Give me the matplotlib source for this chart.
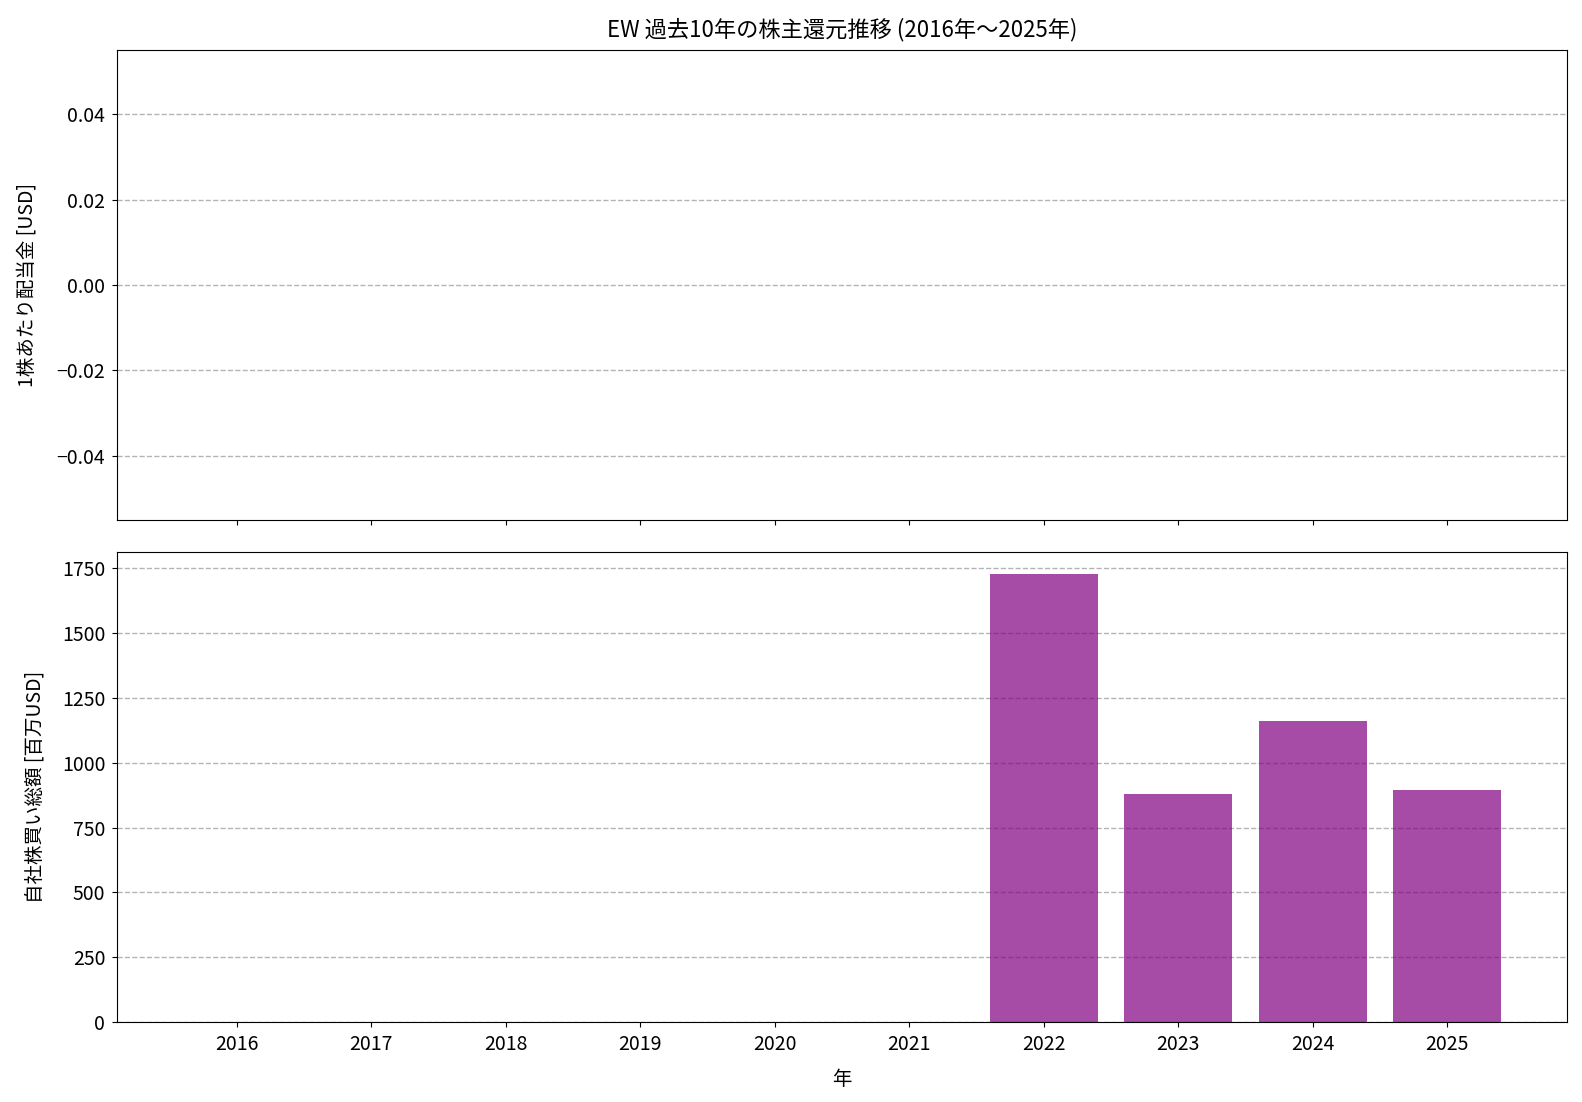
import matplotlib
matplotlib.use("Agg")
import matplotlib.pyplot as plt
import numpy as np

plt.rcParams['font.family'] = ['Noto Sans CJK JP', 'DejaVu Sans']
plt.rcParams['axes.unicode_minus'] = True

years = [2016, 2017, 2018, 2019, 2020, 2021, 2022, 2023, 2024, 2025]
dividends = [0, 0, 0, 0, 0, 0, 0, 0, 0, 0]
buybacks = [0, 0, 0, 0, 0, 0, 1727, 879, 1160, 895]

title = "EW 過去10年の株主還元推移 (2016年～2025年)"
ylabel_top = "1株あたり配当金 [USD]"
ylabel_bottom = "自社株買い総額 [百万USD]"
xlabel = "年"

fig = plt.figure(figsize=(15.82, 11.02), dpi=100)
ax1 = fig.add_axes([0.074, 0.5285, 0.9165, 0.4258])
ax2 = fig.add_axes([0.074, 0.0726, 0.9165, 0.4265], sharex=ax1)

ax1.bar(years, dividends, color='tab:blue', width=0.8)
ax1.set_ylim(-0.055, 0.055)
ax1.set_yticks([-0.04, -0.02, 0.0, 0.02, 0.04])
ax1.set_ylabel(ylabel_top, fontsize=14, labelpad=14)
ax1.set_title(title, fontsize=16, pad=10)
ax1.grid(axis='y', linestyle='--', color='#b4b4b4', linewidth=1.0)
ax1.set_axisbelow(True)
plt.setp(ax1.get_xticklabels(), visible=False)

ax2.bar(years, buybacks, color='purple', alpha=0.7, width=0.8)
ax2.set_ylim(0, 1813)
ax2.set_ylabel(ylabel_bottom, fontsize=14, labelpad=12)
ax2.set_xlabel(xlabel, fontsize=14, labelpad=10)
ax2.set_xticks(years)
ax2.grid(axis='y', linestyle='--', color='#b4b4b4', linewidth=1.0)
ax2.set_axisbelow(True)

for ax in (ax1, ax2):
    ax.tick_params(labelsize=14, pad=5)

fig.savefig("out.png", dpi=100)
